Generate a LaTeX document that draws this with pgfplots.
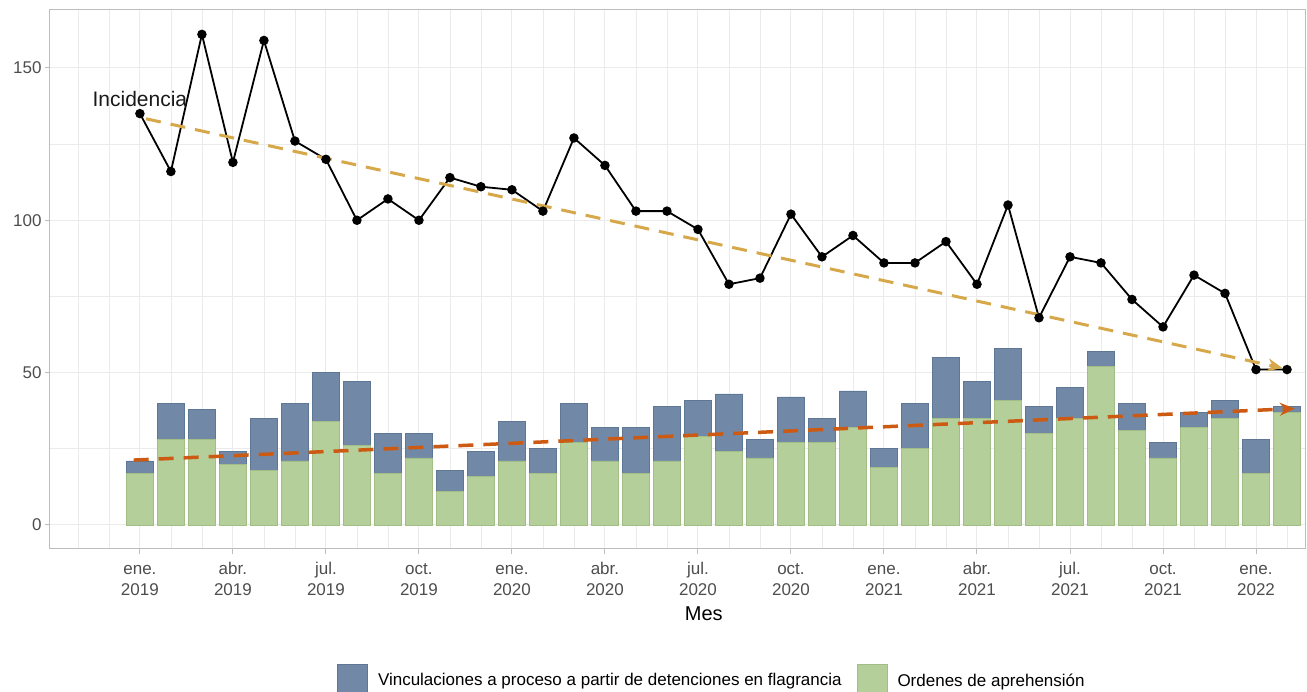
\documentclass[border=0pt]{standalone}
\usepackage{fontspec}
\setmainfont{Liberation Sans}
\usepackage{pgfplots}
\pgfplotsset{compat=1.18}
\usepackage{pgfplotstable}
\usetikzlibrary{arrows.meta}

\definecolor{vblue}{HTML}{7189A6}
\definecolor{vblueD}{HTML}{5E7795}
\definecolor{vgreen}{HTML}{B5CF9B}
\definecolor{vgreenD}{HTML}{A2BE86}
\definecolor{goldc}{HTML}{D6A84A}
\definecolor{orangec}{HTML}{CC5A12}
\definecolor{gridcol}{HTML}{EBEBEB}
\definecolor{bordercol}{HTML}{BDBDBD}
\definecolor{labcol}{HTML}{4D4D4D}

% idx: months from ene. 2019 (0) to feb. 2022 (37)
% green = Ordenes de aprehension, total = green + Vinculaciones, inc = Incidencia
\pgfplotstableread{
idx green total inc
0 17 21 135
1 28 40 116
2 28 38 161
3 20 24 119
4 18 35 159
5 21 40 126
6 34 50 120
7 26 47 100
8 17 30 107
9 22 30 100
10 11 18 114
11 16 24 111
12 21 34 110
13 17 25 103
14 27 40 127
15 21 32 118
16 17 32 103
17 21 39 103
18 29 41 97
19 24 43 79
20 22 28 81
21 27 42 102
22 27 35 88
23 32 44 95
24 19 25 86
25 25 40 86
26 35 55 93
27 35 47 79
28 41 58 105
29 30 39 68
30 35 45 88
31 52 57 86
32 31 40 74
33 22 27 65
34 32 37 82
35 35 41 76
36 17 28 51
37 37 39 51
}\datatab

\begin{document}
\begin{tikzpicture}
\useasboundingbox (-50pt,-143pt) rectangle (1257pt,549pt);
\begin{axis}[
  scale only axis, width=1255pt, height=539pt,
  xmin=-2.9, xmax=37.58, ymin=-7.88, ymax=169,
  axis line style={draw=bordercol, line width=1pt},
  xtick={0,3,...,36},
  xticklabels={{ene.\strut\\2019},{abr.\strut\\2019},{jul.\strut\\2019},{oct.\strut\\2019},{ene.\strut\\2020},{abr.\strut\\2020},{jul.\strut\\2020},{oct.\strut\\2020},{ene.\strut\\2021},{abr.\strut\\2021},{jul.\strut\\2021},{oct.\strut\\2021},{ene.\strut\\2022}},
  minor xtick={-2,-1,1,2,4,5,7,8,10,11,13,14,16,17,19,20,22,23,25,26,28,29,31,32,34,35,37},
  ytick={0,50,100,150},
  minor ytick={25,75,125},
  grid=both,
  major grid style={draw=gridcol, line width=1pt},
  minor grid style={draw=gridcol, line width=0.8pt},
  tick align=outside, major tick length=5pt, minor tick length=0pt,
  tick pos=left,
  tick style={draw=bordercol, line width=1pt},
  x tick label style={align=center, font=\fontsize{17}{21}\selectfont, text=labcol, anchor=north, yshift=-2pt},
  y tick label style={font=\fontsize{17}{20}\selectfont, text=labcol},
  /pgf/number format/assume math mode=true,
  xlabel={Mes},
  xlabel style={font=\fontsize{20}{24}\selectfont, at={(axis description cs:0.521,-0.1206)}, anchor=center},
  legend style={draw=none, fill=none, at={(axis description cs:0.2263,-0.2096)}, anchor=north west,
    font=\fontsize{17}{20}\selectfont,
    /tikz/every odd column/.append style={column sep=8pt},
    /tikz/every even column/.append style={column sep=13pt}},
  legend columns=2, legend cell align=left,
  clip=false,
]
\addplot[ybar, bar width=0.88, bar shift=0pt, fill=vblue, draw=vblueD, line width=0.8pt, forget plot] table[x=idx, y=total] {\datatab};
\addplot[ybar, bar width=0.88, bar shift=0pt, fill=vgreen, draw=vgreenD, line width=0.8pt, forget plot] table[x=idx, y=green] {\datatab};
\addplot[black, line width=1.8pt, mark=*, mark size=3.8pt, forget plot] table[x=idx, y=inc] {\datatab};
\addplot[draw=goldc, line width=3pt, dash pattern=on 15pt off 10pt, -{Stealth[length=15pt,width=13pt,inset=5pt]}, forget plot] coordinates {(0.2,133.3) (36.85,51.5)};
\addplot[draw=orangec, line width=3.5pt, dash pattern=on 15pt off 10pt, -{Stealth[length=15pt,width=13pt,inset=5pt]}, forget plot] coordinates {(-0.2,21.3) (37.25,38.2)};
\node[font=\fontsize{21}{24}\selectfont, text=black!90] at (axis cs:0,139.8) {Incidencia};
\addlegendimage{legend image code/.code={\draw[draw=vblueD, fill=vblue, line width=0.8pt] (0pt,-15pt) rectangle (30pt,16pt);}}
\addlegendentry{Vinculaciones a proceso a partir de detenciones en flagrancia}
\addlegendimage{legend image code/.code={\draw[draw=vgreenD, fill=vgreen, line width=0.8pt] (0pt,-15pt) rectangle (30pt,16pt);}}
\addlegendentry{Ordenes de aprehensión}
\end{axis}
\end{tikzpicture}
\end{document}
